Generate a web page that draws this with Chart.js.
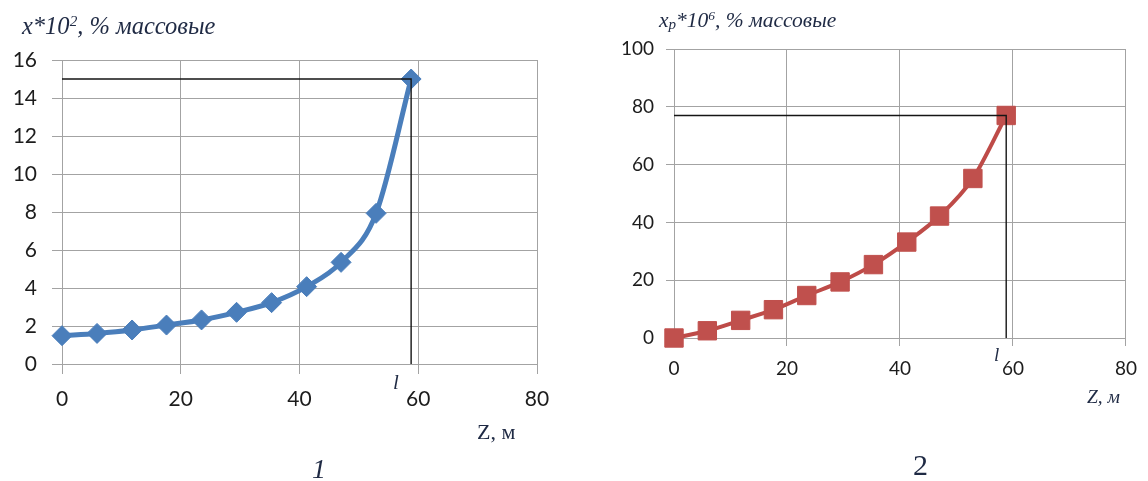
<!DOCTYPE html>
<html>
<head>
<meta charset="utf-8">
<script src="https://cdn.jsdelivr.net/npm/chart.js@4.4.1/dist/chart.umd.min.js"></script>
<style>
  html, body { margin: 0; padding: 0; background: #fff; width: 1148px; height: 481px; overflow: hidden; }
  .panel { position: absolute; top: 0; width: 574px; height: 481px; }
  .txt { position: absolute; font-family: "Liberation Serif", "DejaVu Serif", serif; color: #1f2a44; white-space: nowrap; line-height: 1; }
  .it { font-style: italic; }
  sup { font-size: 62%; vertical-align: 0.55em; line-height: 0; }
  sub { font-size: 70%; vertical-align: -0.15em; line-height: 0; }
</style>
</head>
<body>
<div class="panel" style="left:0"><canvas id="c1" width="574" height="481"></canvas></div>
<div class="panel" style="left:574px"><canvas id="c2" width="574" height="481"></canvas></div>

<div class="txt it" style="left:22px;top:14px;font-size:24.5px">x*10<sup>2</sup>, % массовые</div>
<div class="txt it" style="left:393px;top:372px;font-size:21px">l</div>
<div class="txt" style="left:477px;top:421px;font-size:22px">Z, м</div>
<div class="txt it" style="left:312px;top:455px;font-size:28px">1</div>

<div class="txt it" style="left:659px;top:10px;font-size:21.5px">x<sub>p</sub>*10<sup>6</sup>, % массовые</div>
<div class="txt it" style="left:994px;top:345px;font-size:19px">l</div>
<div class="txt it" style="left:1087px;top:387px;font-size:19.5px">Z, м</div>
<div class="txt" style="left:913px;top:450px;font-size:30px">2</div>

<script>
// Depth along the column, m
const depthZ = [0, 5.9, 11.8, 17.6, 23.5, 29.4, 35.3, 41.2, 47.0, 52.9, 58.8];
// Mass fraction x*10^2, %
const xMass = [1.49, 1.61, 1.79, 2.05, 2.32, 2.72, 3.23, 4.07, 5.35, 7.93, 15.0];
// Mass fraction xp*10^6, %
const xpMass = [0, 2.5, 6.1, 9.8, 14.7, 19.4, 25.4, 33.2, 42.2, 55.2, 77.0];
// Length l, m
const lengthL = 58.8;

// Tick labels
const zTicks = [0, 20, 40, 60, 80];
const xMassTicks = [0, 2, 4, 6, 8, 10, 12, 14, 16];
const xpMassTicks = [0, 20, 40, 60, 80, 100];

const W = 574, H = 481;
const GRID = '#a3a3a3';

function pairs(xs, ys) { return xs.map((x, i) => ({ x, y: ys[i] })); }

function makeChart(id, opt) {
  const a = opt.area;
  const guideY = opt.values[opt.values.length - 1];
  return new Chart(document.getElementById(id), {
    type: 'line',
    data: {
      datasets: [
        {
          // guide lines to the value at z = l
          data: [{ x: 0, y: guideY }, { x: lengthL, y: guideY }, { x: lengthL, y: 0 }],
          borderColor: '#151515',
          borderWidth: 1.4,
          pointRadius: 0,
          tension: 0,
          clip: false,
          order: 0
        },
        {
          data: pairs(depthZ, opt.values),
          borderColor: opt.line,
          backgroundColor: opt.fill,
          borderWidth: opt.lineWidth,
          pointStyle: opt.marker,
          pointRadius: opt.markerRadius,
          pointBackgroundColor: opt.fill,
          pointBorderColor: opt.fill,
          pointBorderWidth: 1,
          cubicInterpolationMode: 'monotone',
          clip: false,
          order: 1
        }
      ]
    },
    options: {
      responsive: false,
      animation: false,
      devicePixelRatio: 1,
      layout: { padding: { left: 0, top: a.top, right: W - a.right, bottom: 0 } },
      plugins: { legend: { display: false }, tooltip: { enabled: false } },
      scales: {
        x: {
          type: 'linear', min: 0, max: 80,
          afterFit: s => { s.height = H - a.bottom; },
          afterBuildTicks: s => { s.ticks = zTicks.map(v => ({ value: v })); },
          grid: { color: GRID, lineWidth: 1, tickLength: opt.tickLen, drawTicks: true },
          border: { color: GRID, width: 1 },
          ticks: { font: { family: 'Lato', size: opt.fontSize }, color: '#1c1c1c', padding: opt.xPad, maxRotation: 0 }
        },
        y: {
          type: 'linear', min: 0, max: opt.yTicks[opt.yTicks.length - 1],
          afterFit: s => { s.width = a.left; },
          afterBuildTicks: s => { s.ticks = opt.yTicks.map(v => ({ value: v })); },
          grid: { color: GRID, lineWidth: 1, tickLength: opt.tickLen, drawTicks: true },
          border: { color: GRID, width: 1 },
          ticks: { font: { family: 'Lato', size: opt.fontSize }, color: '#1c1c1c', padding: opt.yPad }
        }
      }
    }
  });
}

makeChart('c1', {
  area: { left: 62, top: 60, right: 537, bottom: 364 },
  values: xMass, yTicks: xMassTicks,
  line: '#4a7ebb', fill: '#4a7ebb', lineWidth: 5,
  marker: 'rectRot', markerRadius: 10,
  tickLen: 10, fontSize: 21, xPad: 13, yPad: 15
});

makeChart('c2', {
  area: { left: 100, top: 49, right: 559, bottom: 338 },
  values: xpMass, yTicks: xpMassTicks,
  line: '#be4b48', fill: '#c0504d', lineWidth: 4,
  marker: 'rect', markerRadius: 13,
  tickLen: 8, fontSize: 19, xPad: 11, yPad: 12
});
</script>
</body>
</html>
